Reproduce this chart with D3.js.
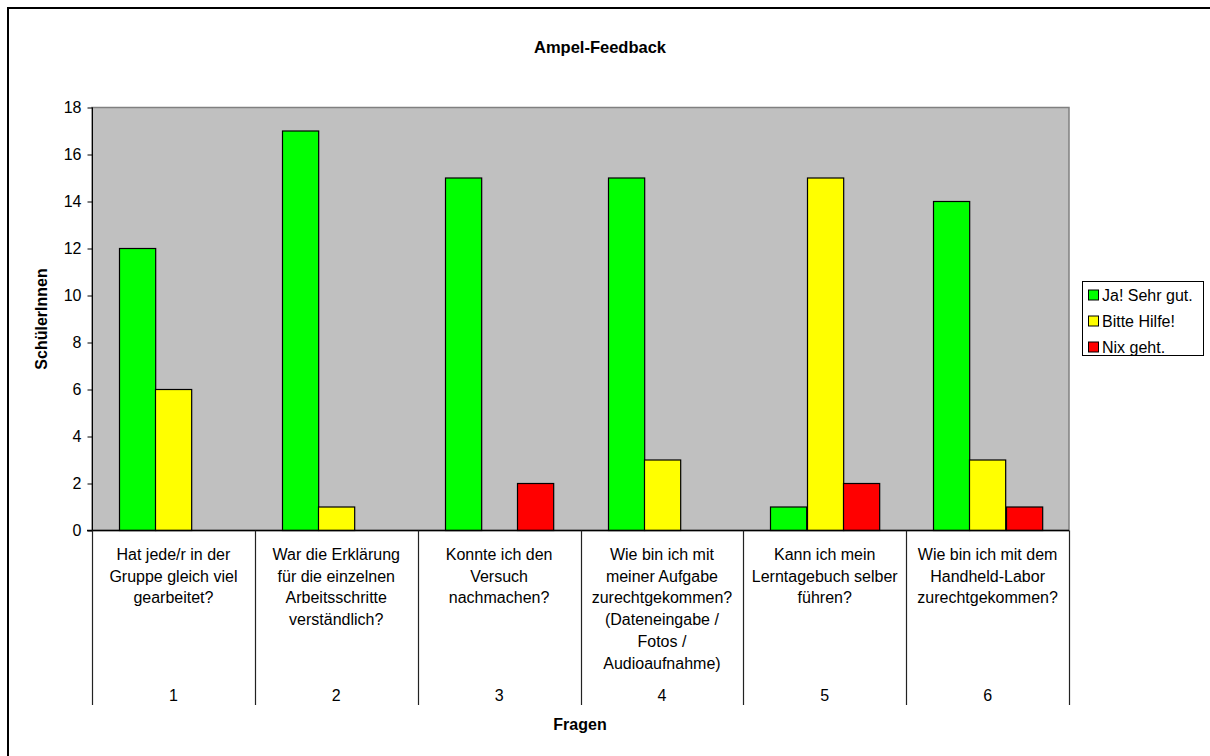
<!DOCTYPE html>
<html><head><meta charset="utf-8">
<script src="https://cdn.jsdelivr.net/npm/d3@7/dist/d3.min.js"></script>
<style>
html,body{margin:0;padding:0;background:#fff;}
svg{display:block;font-family:Arial,"Liberation Sans",sans-serif;}
</style></head>
<body><svg id="c" width="1210" height="756"></svg>
<script>
const categories = ["1","2","3","4","5","6"];
const questions = [
  ["Hat jede/r in der","Gruppe gleich viel","gearbeitet?"],
  ["War die Erklärung","für die einzelnen","Arbeitsschritte","verständlich?"],
  ["Konnte ich den","Versuch","nachmachen?"],
  ["Wie bin ich mit","meiner Aufgabe","zurechtgekommen?","(Dateneingabe /","Fotos /","Audioaufnahme)"],
  ["Kann ich mein","Lerntagebuch selber","führen?"],
  ["Wie bin ich mit dem","Handheld-Labor","zurechtgekommen?"]
];
const seriesNames = ["Ja! Sehr gut.","Bitte Hilfe!","Nix geht."];
const seriesColors = ["#00FF00","#FFFF00","#FF0000"];
const jaValues = [12,17,15,15,1,14];
const hilfeValues = [6,1,0,3,15,3];
const nixValues = [0,0,2,0,2,1];
const yTicks = [0,2,4,6,8,10,12,14,16,18];
const title = "Ampel-Feedback";
const xTitle = "Fragen";
const yTitle = "SchülerInnen";

const seriesValues = [jaValues, hilfeValues, nixValues];
const svg = d3.select("#c");

// outer chart border
svg.append("rect").attr("x",8).attr("y",8).attr("width",1210).attr("height",756)
  .attr("fill","#fff").attr("stroke","#000").attr("stroke-width",2);

const L=92, R=1069, T=107.5, B=530.5;
const x = d3.scaleBand().domain(categories).range([L,R]).paddingInner(0).paddingOuter(0);
const xs = d3.scaleBand().domain(d3.range(seriesNames.length)).range([0,x.bandwidth()]).paddingInner(0).paddingOuter(0.75);
const y = d3.scaleLinear().domain([0,18]).range([B,T]);

// plot area
svg.append("rect").attr("x",L).attr("y",T).attr("width",R-L).attr("height",B-T)
  .attr("fill","#C0C0C0").attr("stroke","#808080").attr("stroke-width",1.5);

// bars
const bars = [];
categories.forEach((c,i)=>{
  seriesValues.forEach((vals,s)=>{
    if(vals[i]>0) bars.push({c, s, v: vals[i]});
  });
});
svg.append("g").selectAll("rect").data(bars).join("rect")
  .attr("x",d=>Math.round(x(d.c)+xs(d.s))+0.5)
  .attr("width",xs.bandwidth())
  .attr("y",d=>y(d.v))
  .attr("height",d=>y(0)-y(d.v))
  .attr("fill",d=>seriesColors[d.s])
  .attr("stroke","#000").attr("stroke-width",1.2);

// y axis
const yAxis = d3.axisLeft(y).tickValues(yTicks).tickSize(5).tickPadding(6).tickFormat(d3.format("d"));
const gy = svg.append("g").attr("transform",`translate(${L+0.5},0)`).call(yAxis);
gy.select(".domain").attr("stroke","#000").attr("d",`M0,${T}V${B}`);
gy.selectAll(".tick line").attr("stroke","#000");
gy.selectAll(".tick text").attr("font-size",16).attr("fill","#000").attr("font-family","Arial, 'Liberation Sans', sans-serif");

// x axis baseline
svg.append("line").attr("x1",L-5).attr("x2",R).attr("y1",B).attr("y2",B).attr("stroke","#000").attr("stroke-width",1.3);

// category dividers
const bounds = categories.map(c=>x(c)).concat([R]);
svg.append("g").selectAll("line").data(bounds).join("line")
  .attr("x1",d=>Math.round(d)+0.5).attr("x2",d=>Math.round(d)+0.5)
  .attr("y1",B).attr("y2",705).attr("stroke","#222").attr("stroke-width",1.2);

// category labels (two levels)
const gl = svg.append("g").attr("font-size",16).attr("text-anchor","middle").attr("fill","#000");
categories.forEach((c,i)=>{
  const cx = x(c)+x.bandwidth()/2;
  const t = gl.append("text").attr("x",cx).attr("y",560);
  questions[i].forEach((line,k)=>{
    t.append("tspan").attr("x",cx).attr("y",560+k*21.7).text(line);
  });
  gl.append("text").attr("x",cx).attr("y",701).text(c);
});

// titles
svg.append("text").attr("x",600).attr("y",53).attr("text-anchor","middle")
  .attr("font-size",16.5).attr("font-weight","bold").text(title);
svg.append("text").attr("x",580).attr("y",730).attr("text-anchor","middle")
  .attr("font-size",16).attr("font-weight","bold").text(xTitle);
svg.append("text").attr("transform",`translate(47,${(T+B)/2}) rotate(-90)`).attr("text-anchor","middle")
  .attr("font-size",16).attr("font-weight","bold").text(yTitle);

// legend
const lg = svg.append("g");
lg.append("rect").attr("x",1082.5).attr("y",281.5).attr("width",121).attr("height",74)
  .attr("fill","#fff").attr("stroke","#000").attr("stroke-width",1);
seriesNames.forEach((n,i)=>{
  const cy = 295 + i*26;
  lg.append("rect").attr("x",1088.5).attr("y",cy-5).attr("width",10).attr("height",10)
    .attr("fill",seriesColors[i]).attr("stroke","#000").attr("stroke-width",1);
  lg.append("text").attr("x",1102).attr("y",cy+6).attr("font-size",16).text(n);
});
</script></body></html>
